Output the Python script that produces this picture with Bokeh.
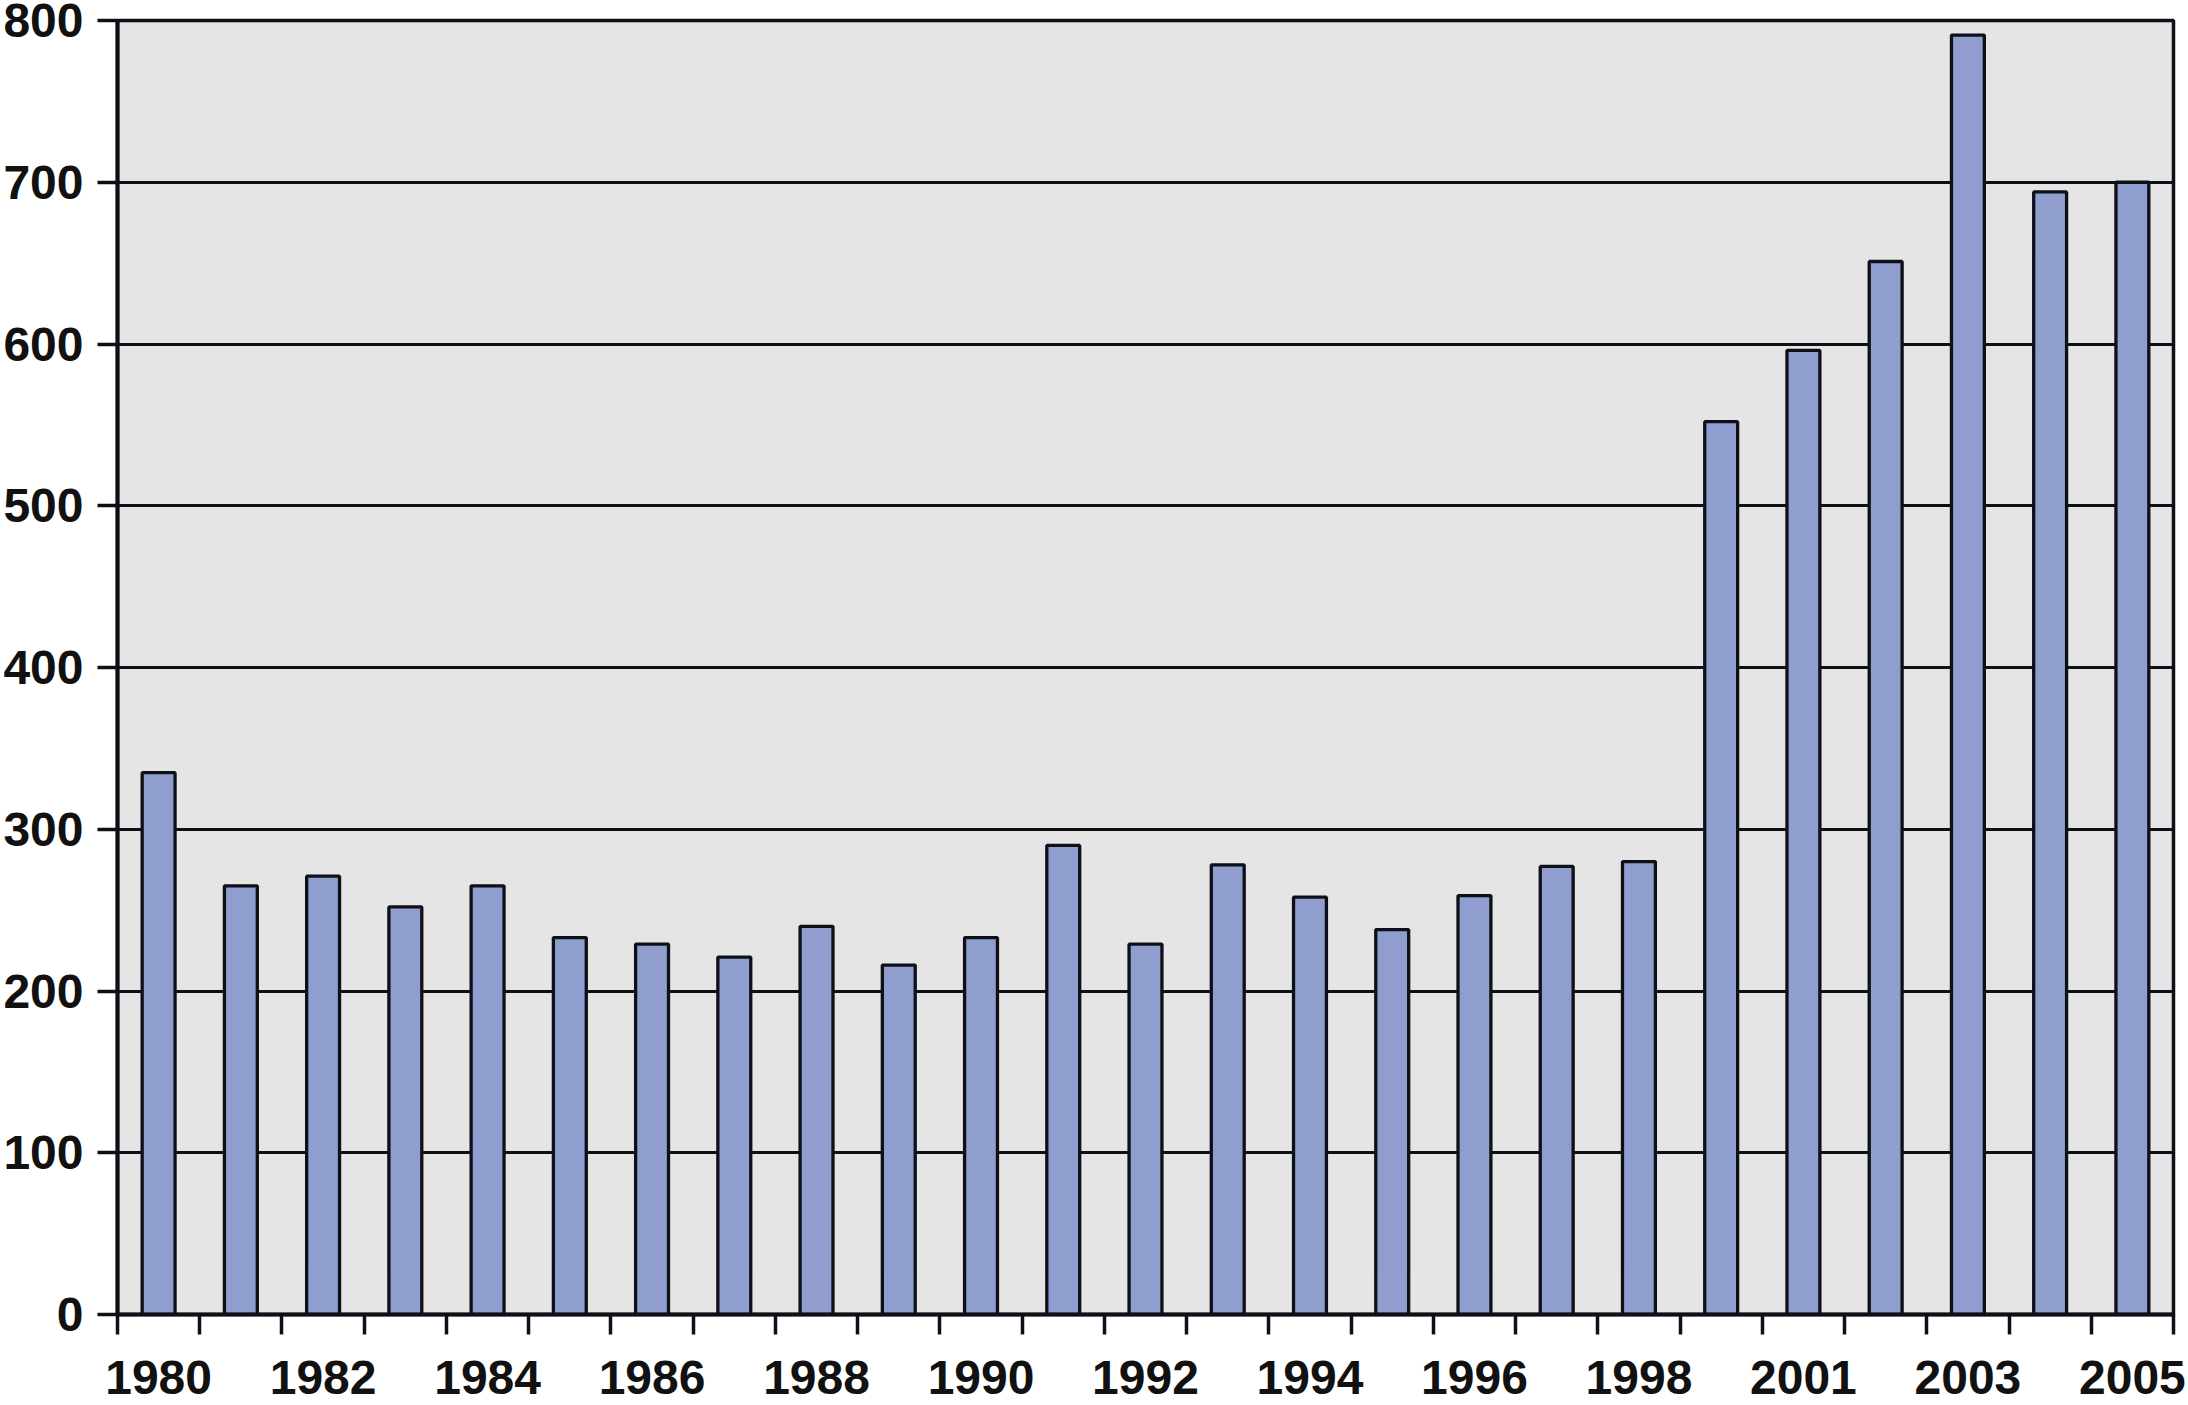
from bokeh.plotting import figure
from bokeh.models import FixedTicker, Range1d, ColumnDataSource
from bokeh.embed import file_html
from bokeh.resources import INLINE

# Data
slot_labels = ["1980", "", "1982", "", "1984", "", "1986", "", "1988", "", "1990", "",
               "1992", "", "1994", "", "1996", "", "1998", "", "2001", "", "2003", "", "2005"]
values = [335, 265, 271, 252, 265, 233, 229, 221, 240, 216, 233, 290,
          229, 278, 258, 238, 259, 277, 280, 552, 596, 651, 791, 694, 700]
y_ticks = [0, 100, 200, 300, 400, 500, 600, 700, 800]

n = len(values)
centers = [i + 0.5 for i in range(n)]
source = ColumnDataSource(dict(x=centers, top=values))

p = figure(width=2188, height=1405, output_backend="svg", toolbar_location=None,
           x_range=Range1d(0, n), y_range=Range1d(0, 800),
           min_border_left=117, min_border_top=20, min_border_right=15, min_border_bottom=91,
           background_fill_color="#E5E5E6", border_fill_color="white")

p.outline_line_color = "#0D1117"
p.outline_line_width = 3.5

p.vbar(x="x", top="top", width=0.4, bottom=0, source=source,
       fill_color="#8F9ECF", line_color="#0D1117", line_width=3.3)

# Grid
p.xgrid.grid_line_color = None
p.ygrid.grid_line_color = "#0D1117"
p.ygrid.grid_line_width = 3.2
p.ygrid.ticker = FixedTicker(ticks=y_ticks)

font = "Liberation Sans"

# X axis: labels at slot centres, tick marks at slot boundaries
xa = p.xaxis[0]
xa.ticker = FixedTicker(ticks=centers, minor_ticks=list(range(n + 1)))
xa.major_label_overrides = {c: lab for c, lab in zip(centers, slot_labels)}
xa.major_tick_line_color = None
xa.major_tick_out = 20
xa.major_tick_in = 0
xa.minor_tick_line_color = "#0D1117"
xa.minor_tick_line_width = 3.5
xa.minor_tick_out = 20
xa.minor_tick_in = 0
xa.axis_line_color = "#0D1117"
xa.axis_line_width = 4
xa.major_label_text_font = font
xa.major_label_text_font_style = "bold"
xa.major_label_text_font_size = "48px"
xa.major_label_text_color = "#111111"
xa.major_label_standoff = 26

# Y axis
ya = p.yaxis[0]
ya.ticker = FixedTicker(ticks=y_ticks)
ya.major_tick_line_color = "#0D1117"
ya.major_tick_line_width = 3.5
ya.major_tick_out = 20
ya.major_tick_in = 0
ya.minor_tick_line_color = None
ya.axis_line_color = "#0D1117"
ya.axis_line_width = 4
ya.major_label_text_font = font
ya.major_label_text_font_style = "bold"
ya.major_label_text_font_size = "48px"
ya.major_label_text_color = "#111111"
ya.major_label_standoff = 14

open("out.html", "w").write(file_html(p, INLINE))
